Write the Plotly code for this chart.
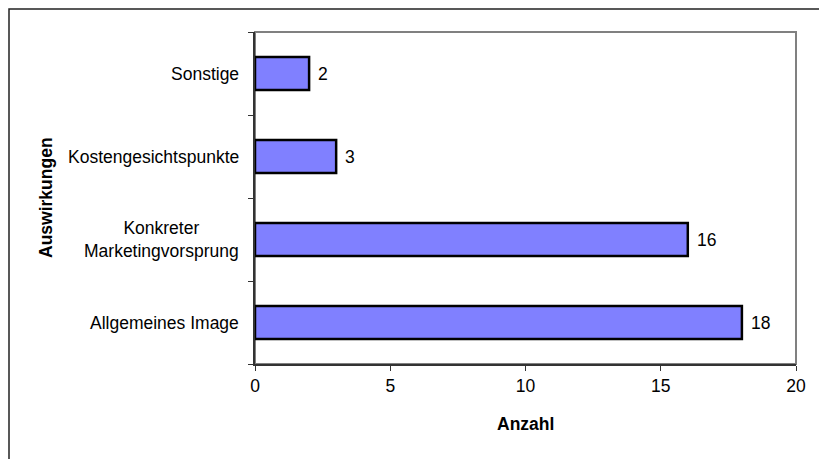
import plotly.graph_objects as go

categories = ["Allgemeines Image", "Konkreter<br>Marketingvorsprung", "Kostengesichtspunkte", "Sonstige"]
values = [18, 16, 3, 2]
x_ticks = [0, 5, 10, 15, 20]
x_title = "Anzahl"
y_title = "Auswirkungen"

FONT = "Liberation Sans, Arial, sans-serif"
FS = 17.5
W, H = 819, 459
L, R, T, B = 255, 23, 32, 95
pw, ph = W - L - R, H - T - B

fig = go.Figure()
fig.add_trace(go.Bar(
    x=values, y=categories, orientation="h", width=0.4,
    marker=dict(color="#8080FF", line=dict(color="#000000", width=2.5)),
    hoverinfo="skip",
))

annotations = []
for c, v in zip(categories, values):
    annotations.append(dict(x=v, y=c, xref="x", yref="y", text=str(v), showarrow=False,
                            xanchor="left", xshift=7, font=dict(size=FS, color="#000", family=FONT)))
    annotations.append(dict(x=-14 / pw, y=c, xref="paper", yref="y", text=c, showarrow=False,
                            xanchor="right", align="center", font=dict(size=FS, color="#000", family=FONT)))
annotations.append(dict(x=(46 - L) / pw, y=0.5, xref="paper", yref="paper", text="<b>" + y_title + "</b>",
                        textangle=-90, showarrow=False, xanchor="center", yanchor="middle",
                        font=dict(size=FS, color="#000", family=FONT)))
annotations.append(dict(x=0.5, y=-(424 - T - ph) / ph, xref="paper", yref="paper", text="<b>" + x_title + "</b>",
                        showarrow=False, xanchor="center", yanchor="middle",
                        font=dict(size=FS, color="#000", family=FONT)))

shapes = [
    dict(type="rect", xref="paper", yref="paper", x0=0, x1=1, y0=0, y1=1,
         line=dict(color="#808080", width=2), layer="below"),
    dict(type="rect", xref="paper", yref="paper", x0=(9 - L) / pw, x1=1 + (R + 10) / pw,
         y0=-(B + 10) / ph, y1=1 + (T - 9) / ph, line=dict(color="#222222", width=1.5), layer="below"),
]

fig.update_layout(
    width=W, height=H, margin=dict(l=L, r=R, t=T, b=B),
    paper_bgcolor="white", plot_bgcolor="white",
    showlegend=False, bargap=0.6,
    font=dict(family=FONT, size=FS, color="#000"),
    annotations=annotations, shapes=shapes,
    xaxis=dict(range=[0, 20], tickvals=x_ticks, ticks="outside", ticklen=5, tickcolor="#333",
               showline=True, linecolor="#333", linewidth=2, showgrid=False, zeroline=False,
               tickfont=dict(size=FS, family=FONT, color="#000")),
    yaxis=dict(type="category", categoryorder="array", categoryarray=categories,
               range=[-0.5, 3.5], tickson="boundaries", ticks="outside", ticklen=5, tickcolor="#333",
               showline=True, linecolor="#333", linewidth=2, showgrid=False, zeroline=False,
               showticklabels=False),
)

fig.write_html("out.html")
